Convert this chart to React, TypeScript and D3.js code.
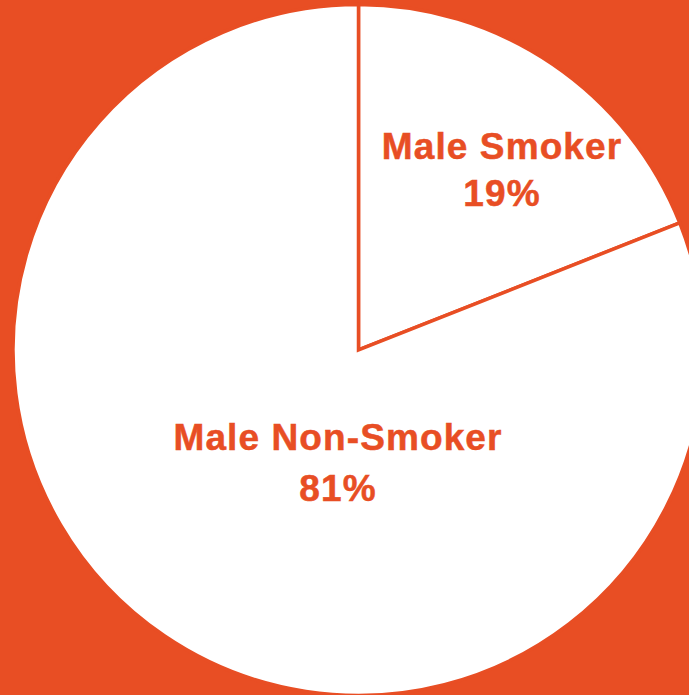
import React from "react";
import * as d3 from "d3";

const categories = ["Male Smoker", "Male Non-Smoker"];
const values = [19, 81];
const percentLabels = ["19%", "81%"];

const W = 689;
const H = 695;
const CX = 358.5;
const CY = 350;
const R = 345.5;
const ORANGE = "#E84E24";
// label anchor positions (layout, manually placed in reference)
const labelPos = [
  { x: 502, y: 158.5 },
  { x: 338, y: 449.5 },
];

export default function App() {
  const pie = d3.pie<number>().sort(null).value((d) => d);
  const arcs = pie(values);
  const arc = d3.arc<d3.PieArcDatum<number>>().innerRadius(0).outerRadius(R);
  const lineGap = [47, 51];
  return (
    <div style={{ position: "fixed", left: 0, top: 0, width: W, height: H }}>
      <svg width={W} height={H} style={{ display: "block" }}>
        <rect x={0} y={0} width={W} height={H} fill={ORANGE} />
        <g transform={`translate(${CX},${CY})`}>
          {arcs.map((a, i) => (
            <path
              key={i}
              d={arc(a) || ""}
              fill="#FFFFFF"
              stroke={ORANGE}
              strokeWidth={3.5}
              strokeLinejoin="miter"
            />
          ))}
        </g>
        {categories.map((c, i) => (
          <g
            key={c}
            transform={`translate(${labelPos[i].x},${labelPos[i].y})`}
            fontFamily="'Liberation Sans', Arial, sans-serif"
            fontWeight="bold"
            fontSize={37}
            fill={ORANGE}
            stroke={ORANGE}
            strokeWidth={0.5}
            textAnchor="middle"
            letterSpacing={1.1}
          >
            <text x={0} y={0}>{c}</text>
            <text x={0} y={lineGap[i]}>{percentLabels[i]}</text>
          </g>
        ))}
      </svg>
    </div>
  );
}
